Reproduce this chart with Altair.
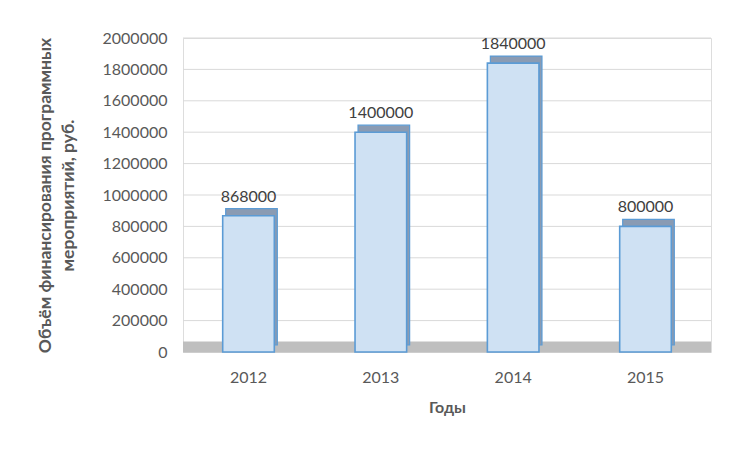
import altair as alt
import pandas as pd

years = ["2012", "2013", "2014", "2015"]
values = [868000, 1400000, 1840000, 800000]
y_ticks = [0, 200000, 400000, 600000, 800000, 1000000, 1200000, 1400000, 1600000, 1800000, 2000000]
y_title = ["Объём финансирования программных", "мероприятий, руб."]
x_title = "Годы"

df = pd.DataFrame({"year": years, "value": values})
ticks_df = pd.DataFrame({"value": y_ticks})
floor_df = pd.DataFrame({"value": [0]})

FONT = "Lato"

x_enc = alt.X(
    "year:N",
    title=x_title,
    scale=alt.Scale(paddingInner=0.61, paddingOuter=0.3),
    axis=alt.Axis(
        labelAngle=0, labelFontSize=16, labelColor="#595959", labelFont=FONT,
        labelPadding=17, ticks=False, domain=False,
        titleFontSize=16, titleFont=FONT, titleColor="#595959", titleFontWeight="bold",
        titlePadding=14,
    ),
)
y_scale = alt.Scale(domain=[0, 2000000])
y_axis = alt.Axis(values=y_ticks, title=y_title, format="d", labelOverlap=False,
                  labelFontSize=16, labelColor="#595959", labelFont=FONT,
                  labelPadding=16, ticks=False, domain=False, grid=False,
                  titleFontSize=17.5, titleFont=FONT, titleColor="#595959",
                  titleFontWeight="bold", titlePadding=25, titleLineHeight=23)
y_enc = alt.Y("value:Q", scale=y_scale, axis=y_axis, title=y_title)

grid = alt.Chart(ticks_df).mark_rule(color="#d9d9d9", strokeWidth=1).encode(y=y_enc)

floor = alt.Chart(floor_df).mark_rule(
    color="#bfbfbf", strokeWidth=11, yOffset=-5
).encode(y=y_enc)

base = alt.Chart(df)

back = base.mark_bar(
    fill="#8a9bb3", stroke="#5b9bd5", strokeWidth=1.2, xOffset=3, yOffset=-7
).encode(x=x_enc, y=y_enc)

front = base.mark_bar(
    fill="#cfe1f3", stroke="#5b9bd5", strokeWidth=1.6
).encode(x=x_enc, y=y_enc)

labels = base.mark_text(
    baseline="bottom", dy=-11, fontSize=16, font=FONT, color="#404040"
).encode(x=x_enc, y=y_enc, text=alt.Text("value:Q", format="d"))

chart = alt.layer(grid, floor, back, front, labels).properties(
    width=528, height=314,
    padding={"top": 22, "left": 28, "right": 5, "bottom": 5},
).configure_view(stroke=None).configure(background="white")

chart.save("out.html", embed_options={"renderer": "svg", "actions": False})
